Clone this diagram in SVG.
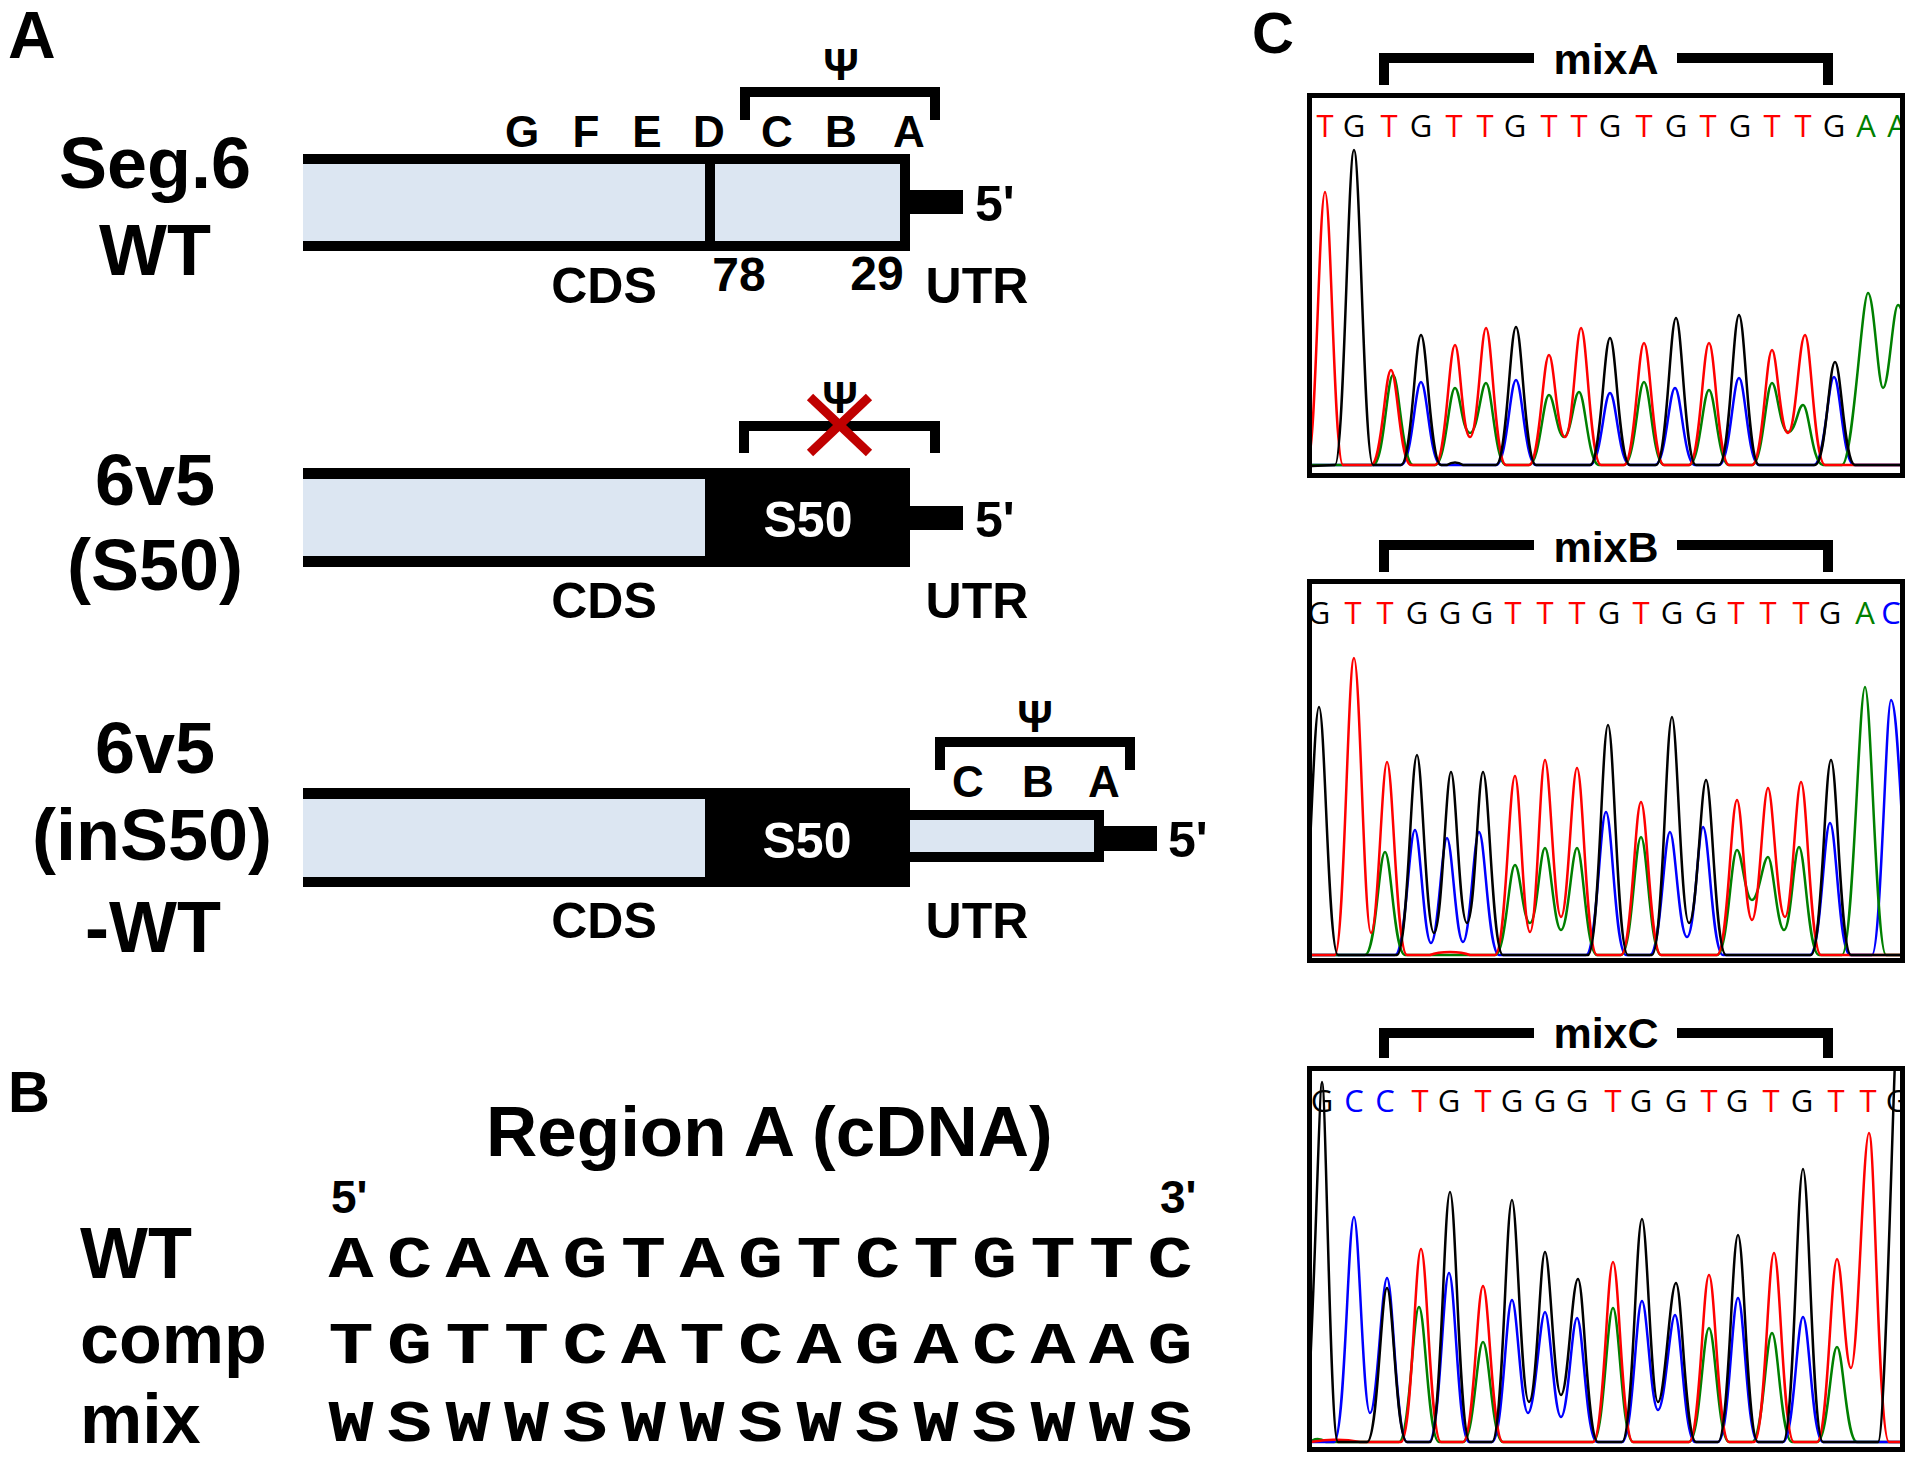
<svg xmlns="http://www.w3.org/2000/svg" width="1910" height="1459" viewBox="0 0 1910 1459">
<style>
.lab{font-family:"Liberation Sans",Arial,sans-serif;font-weight:bold;fill:#000}
.big{font-size:72px;text-anchor:middle}
.pan{font-size:66px}
.mid{font-size:50px;text-anchor:middle}
.sm{font-size:44px;text-anchor:middle}
.psi{font-size:44px;text-anchor:middle}
.wht{fill:#fff}
.seq{font-family:"Liberation Mono","Courier New",monospace;font-weight:bold;font-size:60px;text-anchor:middle;fill:#000}
.base{font-family:"Open Sans","DejaVu Sans",sans-serif;font-size:31px;text-anchor:middle}
.brk{fill:none;stroke:#000;stroke-width:10;stroke-linejoin:miter}
.fill{fill:#dce6f2}
.tr{fill:none;stroke-width:2.5;stroke-linejoin:round}
.r{stroke:#ff0000}.k{stroke:#000}.g{stroke:#008000}.b{stroke:#0000ff}
.tT{fill:#ff0000}.tG{fill:#000}.tA{fill:#008000}.tC{fill:#0000ff}
.box{fill:none;stroke:#000;stroke-width:5}
</style>
<defs>
<clipPath id="cA"><rect x="1312" y="98" width="588" height="375"/></clipPath>
<clipPath id="cB"><rect x="1312" y="584" width="588" height="374"/></clipPath>
<clipPath id="cC"><rect x="1312" y="1071" width="588" height="376"/></clipPath>
</defs>
<rect width="1910" height="1459" fill="#fff"/>

<!-- Panel labels -->
<text class="lab pan" x="8" y="58">A</text>
<text class="lab" style="font-size:58px" x="8" y="1112">B</text>
<text class="lab" style="font-size:58px" x="1252" y="53">C</text>

<!-- Construct 1: Seg.6 WT -->
<g id="seg6wt">
<text class="lab big" x="155" y="188">Seg.6</text>
<text class="lab big" x="155" y="275">WT</text>
<rect x="303" y="154" width="607" height="97" fill="#000"/>
<rect class="fill" x="303" y="164" width="402" height="77"/>
<rect class="fill" x="715" y="164" width="185" height="77"/>
<rect x="910" y="190" width="53" height="24" fill="#000"/>
<text class="lab" style="font-size:50px" x="975" y="221">5'</text>
<text class="lab sm" x="522" y="147">G</text>
<text class="lab sm" x="586" y="147">F</text>
<text class="lab sm" x="647" y="147">E</text>
<text class="lab sm" x="709" y="147">D</text>
<text class="lab sm" x="777" y="147">C</text>
<text class="lab sm" x="841" y="147">B</text>
<text class="lab sm" x="909" y="147">A</text>
<path class="brk" d="M745,120 V92 H935 V120"/>
<text class="lab psi" x="841" y="80">Ψ</text>
<text class="lab mid" x="604" y="303">CDS</text>
<text class="lab" style="font-size:48px;text-anchor:middle" x="739" y="291">78</text>
<text class="lab" style="font-size:48px;text-anchor:middle" x="877" y="290">29</text>
<text class="lab mid" x="977" y="303">UTR</text>
</g>

<!-- Construct 2: 6v5 (S50) -->
<g id="c6v5s50">
<text class="lab big" x="155" y="505">6v5</text>
<text class="lab big" x="155" y="590">(S50)</text>
<rect x="303" y="468" width="607" height="99" fill="#000"/>
<rect class="fill" x="303" y="479" width="402" height="77"/>
<text class="lab mid wht" x="808" y="537">S50</text>
<rect x="910" y="506" width="53" height="24" fill="#000"/>
<text class="lab" style="font-size:50px" x="975" y="537">5'</text>
<path class="brk" d="M744,453 V426 H935 V453"/>
<text class="lab psi" x="840" y="413">Ψ</text>
<g stroke="#c00000" stroke-width="9">
<line x1="810" y1="397" x2="869" y2="453"/>
<line x1="869" y1="397" x2="810" y2="453"/>
</g>
<text class="lab mid" x="604" y="618">CDS</text>
<text class="lab mid" x="977" y="618">UTR</text>
</g>

<!-- Construct 3: 6v5 (inS50)-WT -->
<g id="c6v5ins50wt">
<text class="lab big" x="155" y="773">6v5</text>
<text class="lab big" x="152" y="860">(inS50)</text>
<text class="lab big" x="153" y="952">-WT</text>
<rect x="303" y="788" width="607" height="99" fill="#000"/>
<rect class="fill" x="303" y="799" width="402" height="78"/>
<text class="lab mid wht" x="807" y="858">S50</text>
<rect x="910" y="810" width="194" height="52" fill="#000"/>
<rect class="fill" x="910" y="820" width="184" height="32"/>
<rect x="1104" y="826" width="53" height="25" fill="#000"/>
<text class="lab" style="font-size:50px" x="1168" y="857">5'</text>
<path class="brk" d="M940,770 V742 H1130 V770"/>
<text class="lab psi" x="1035" y="732">Ψ</text>
<text class="lab sm" x="968" y="797">C</text>
<text class="lab sm" x="1038" y="797">B</text>
<text class="lab sm" x="1104" y="797">A</text>
<text class="lab mid" x="604" y="938">CDS</text>
<text class="lab mid" x="977" y="938">UTR</text>
</g>

<!-- Panel B -->
<g id="regionA">
<text class="lab" style="font-size:71px" x="486" y="1156">Region A (cDNA)</text>
<text class="lab" style="font-size:46px" x="331" y="1213">5'</text>
<text class="lab" style="font-size:46px" x="1160" y="1213">3'</text>
<text class="lab" style="font-size:72px" x="80" y="1278">WT</text>
<text class="lab" style="font-size:70px" x="80" y="1363">comp</text>
<text class="lab" style="font-size:70px" x="80" y="1443">mix</text>
<text class="seq" transform="scale(1.25,1)" x="280.8 327.6 374.4 421.2 468 514.8 561.6 608.4 655.2 702 748.8 795.6 842.4 889.2 936" y="1277">ACAAGTAGTCTGTTC</text>
<text class="seq" transform="scale(1.25,1)" x="280.8 327.6 374.4 421.2 468 514.8 561.6 608.4 655.2 702 748.8 795.6 842.4 889.2 936" y="1363">TGTTCATCAGACAAG</text>
<text class="seq" transform="scale(1.25,1)" x="280.8 327.6 374.4 421.2 468 514.8 561.6 608.4 655.2 702 748.8 795.6 842.4 889.2 936" y="1441">WSWWSWWSWSWSWWS</text>
</g>

<!-- Panel C: mixA -->
<g id="mixA">
<path class="brk" d="M1384,85 V58 H1534 M1677,58 H1828 V85"/>
<text class="lab" style="font-size:43px;text-anchor:middle" x="1606" y="74">mixA</text>
<g clip-path="url(#cA)">
<g class="base">
<text class="tT" x="1325" y="137">T</text><text class="tG" x="1354" y="137">G</text><text class="tT" x="1389" y="137">T</text><text class="tG" x="1421" y="137">G</text><text class="tT" x="1454" y="137">T</text><text class="tT" x="1485" y="137">T</text><text class="tG" x="1515" y="137">G</text><text class="tT" x="1549" y="137">T</text><text class="tT" x="1579" y="137">T</text><text class="tG" x="1610" y="137">G</text><text class="tT" x="1644" y="137">T</text><text class="tG" x="1676" y="137">G</text><text class="tT" x="1708" y="137">T</text><text class="tG" x="1740" y="137">G</text><text class="tT" x="1772" y="137">T</text><text class="tT" x="1803" y="137">T</text><text class="tG" x="1834" y="137">G</text><text class="tA" x="1866" y="137">A</text><text class="tA" x="1897" y="137">A</text>
</g>
<path class="tr b" d="M1310,465 L1401,465 C1412,465 1415,382 1421,382 C1427,382 1430,465 1441,465 L1496,465 C1507,465 1510,380 1516,380 C1522,380 1525,465 1536,465 L1590,465 C1601,465 1604,393 1610,393 C1616,393 1619,465 1630,465 L1655,465 C1666,465 1669,388 1675,388 C1681,388 1684,465 1695,465 L1719,465 C1730,465 1733,378 1739,378 C1745,378 1748,465 1759,465 L1814,465 C1825,465 1828,377 1834,377 C1840,377 1843,465 1854,465 L1903,465"/>
<path class="tr g" d="M1310,465 L1373,465 C1384,465 1387,375 1393,375 C1399,375 1402,465 1413,465 L1435,465 C1446,465 1449,388 1455,388 C1460,388 1462,433 1470,433 C1478,433 1481,383 1486,383 C1492,383 1495,465 1506,465 L1529,465 C1540,465 1543,395 1549,395 C1554,395 1557,437 1564,437 C1571,437 1574,392 1579,392 C1585,392 1588,465 1599,465 L1624,465 C1635,465 1638,382 1644,382 C1650,382 1653,465 1664,465 L1689,465 C1700,465 1703,390 1709,390 C1715,390 1718,465 1729,465 L1752,465 C1763,465 1766,383 1772,383 C1777,383 1780,432 1788,432 C1796,432 1798,405 1803,405 C1809,405 1812,465 1823,465 L1842,465 C1853,465 1862,293 1868,293 C1874,293 1878,388 1883,388 C1889,388 1893,305 1898,305 C1901,305 1904,318 1907,330"/>
<path class="tr r" d="M1307,465 C1316,465 1319,192 1325,192 C1331,192 1334,465 1343,465 L1371,465 C1382,465 1385,370 1391,370 C1397,370 1400,465 1411,465 L1435,465 C1446,465 1449,345 1455,345 C1460,345 1462,437 1470,437 C1478,437 1481,328 1486,328 C1492,328 1495,465 1506,465 L1529,465 C1540,465 1543,355 1549,355 C1554,355 1557,437 1565,437 C1573,437 1576,328 1581,328 C1587,328 1590,465 1601,465 L1624,465 C1635,465 1638,343 1644,343 C1650,343 1653,465 1664,465 L1689,465 C1700,465 1703,343 1709,343 C1715,343 1718,465 1729,465 L1752,465 C1763,465 1766,350 1772,350 C1777,350 1780,433 1788,433 C1796,433 1799,335 1805,335 C1811,335 1814,465 1825,465 L1903,465"/>
<path class="tr k" d="M1310,466 L1335,465 C1344,465 1348,150 1354,150 C1360,150 1364,465 1373,465 L1401,465 C1412,465 1415,335 1421,335 C1427,335 1430,465 1441,465 L1447,465 C1452,462 1458,462 1463,465 L1496,465 C1507,465 1510,327 1516,327 C1522,327 1525,465 1536,465 L1590,465 C1601,465 1604,338 1610,338 C1616,338 1619,465 1630,465 L1656,465 C1667,465 1670,318 1676,318 C1682,318 1685,465 1696,465 L1719,465 C1730,465 1733,315 1739,315 C1745,315 1748,465 1759,465 L1815,465 C1826,465 1829,362 1835,362 C1841,362 1844,465 1855,465 L1903,465"/>
</g>
<rect class="box" x="1309.5" y="95.5" width="593" height="380"/>
</g>

<!-- Panel C: mixB -->
<g id="mixB">
<path class="brk" d="M1384,572 V545 H1534 M1677,545 H1828 V572"/>
<text class="lab" style="font-size:43px;text-anchor:middle" x="1606" y="562">mixB</text>
<g clip-path="url(#cB)">
<g class="base">
<text class="tG" x="1319" y="624">G</text><text class="tT" x="1353" y="624">T</text><text class="tT" x="1385" y="624">T</text><text class="tG" x="1417" y="624">G</text><text class="tG" x="1450" y="624">G</text><text class="tG" x="1482" y="624">G</text><text class="tT" x="1513" y="624">T</text><text class="tT" x="1545" y="624">T</text><text class="tT" x="1577" y="624">T</text><text class="tG" x="1609" y="624">G</text><text class="tT" x="1641" y="624">T</text><text class="tG" x="1672" y="624">G</text><text class="tG" x="1706" y="624">G</text><text class="tT" x="1736" y="624">T</text><text class="tT" x="1768" y="624">T</text><text class="tT" x="1801" y="624">T</text><text class="tG" x="1830" y="624">G</text><text class="tA" x="1865" y="624">A</text><text class="tC" x="1891" y="624">C</text>
</g>
<path class="tr b" d="M1310,955 L1395,955 C1406,955 1409,830 1415,830 C1420,830 1424,943 1431,943 C1438,943 1442,838 1447,838 C1452,838 1456,942 1463,942 C1470,942 1474,832 1479,832 C1485,832 1488,955 1499,955 L1586,955 C1597,955 1600,812 1606,812 C1612,812 1615,955 1626,955 L1650,955 C1661,955 1664,832 1670,832 C1675,832 1679,937 1687,937 C1695,937 1698,827 1703,827 C1709,827 1712,955 1723,955 L1810,955 C1821,955 1824,823 1830,823 C1836,823 1839,955 1850,955 L1872,955 C1881,955 1886,700 1891,700 C1897,700 1900,800 1906,880"/>
<path class="tr g" d="M1310,955 L1365,955 C1376,955 1379,852 1385,852 C1391,852 1394,955 1405,955 L1495,955 C1506,955 1509,865 1515,865 C1520,865 1523,923 1530,923 C1537,923 1540,848 1545,848 C1550,848 1554,930 1561,930 C1568,930 1572,848 1577,848 C1583,848 1586,955 1597,955 L1621,955 C1632,955 1635,837 1641,837 C1647,837 1650,955 1661,955 L1717,955 C1728,955 1731,850 1737,850 C1742,850 1745,900 1752,900 C1759,900 1763,857 1768,857 C1773,857 1777,930 1784,930 C1791,930 1794,847 1799,847 C1805,847 1808,955 1819,955 L1842,955 C1853,955 1859,687 1865,687 C1871,687 1876,955 1886,955 L1903,955"/>
<path class="tr r" d="M1310,955 L1335,955 C1344,955 1348,658 1354,658 C1360,658 1364,933 1371,933 C1378,933 1382,762 1387,762 C1393,762 1396,955 1407,955 L1430,955 C1440,951 1460,951 1470,955 L1495,955 C1506,955 1509,776 1515,776 C1520,776 1523,932 1530,932 C1537,932 1540,760 1545,760 C1550,760 1554,917 1561,917 C1568,917 1572,768 1577,768 C1583,768 1586,955 1597,955 L1621,955 C1632,955 1635,802 1641,802 C1647,802 1650,955 1661,955 L1717,955 C1728,955 1731,800 1737,800 C1742,800 1745,920 1752,920 C1759,920 1763,788 1768,788 C1773,788 1777,917 1785,917 C1792,917 1796,782 1801,782 C1807,782 1810,955 1821,955 L1903,955"/>
<path class="tr k" d="M1300,955 C1309,955 1313,707 1319,707 C1325,707 1328,955 1338,955 L1397,955 C1408,955 1411,755 1417,755 C1422,755 1426,933 1434,933 C1442,933 1446,772 1451,772 C1456,772 1459,923 1467,923 C1475,923 1478,772 1483,772 C1489,772 1492,955 1503,955 L1588,955 C1599,955 1602,725 1608,725 C1614,725 1617,955 1628,955 L1652,955 C1663,955 1666,717 1672,717 C1677,717 1681,923 1689,923 C1697,923 1701,780 1706,780 C1712,780 1715,955 1726,955 L1811,955 C1822,955 1825,760 1831,760 C1837,760 1840,955 1851,955 L1903,955"/>
</g>
<rect class="box" x="1309.5" y="581.5" width="593" height="379"/>
</g>

<!-- Panel C: mixC -->
<g id="mixC">
<path class="brk" d="M1384,1058 V1033 H1534 M1677,1033 H1828 V1058"/>
<text class="lab" style="font-size:43px;text-anchor:middle" x="1606" y="1048">mixC</text>
<g clip-path="url(#cC)">
<g class="base">
<text class="tG" x="1322" y="1112">G</text><text class="tC" x="1354" y="1112">C</text><text class="tC" x="1385" y="1112">C</text><text class="tT" x="1420" y="1112">T</text><text class="tG" x="1449" y="1112">G</text><text class="tT" x="1483" y="1112">T</text><text class="tG" x="1512" y="1112">G</text><text class="tG" x="1545" y="1112">G</text><text class="tG" x="1577" y="1112">G</text><text class="tT" x="1613" y="1112">T</text><text class="tG" x="1641" y="1112">G</text><text class="tG" x="1676" y="1112">G</text><text class="tT" x="1709" y="1112">T</text><text class="tG" x="1737" y="1112">G</text><text class="tT" x="1771" y="1112">T</text><text class="tG" x="1802" y="1112">G</text><text class="tT" x="1836" y="1112">T</text><text class="tT" x="1868" y="1112">T</text><text class="tG" x="1897" y="1112">G</text>
</g>
<path class="tr g" d="M1310,1442 C1315,1438 1320,1438 1326,1442 L1399,1442 C1410,1442 1413,1307 1419,1307 C1425,1307 1428,1442 1439,1442 L1463,1442 C1474,1442 1477,1342 1483,1342 C1489,1342 1492,1442 1503,1442 L1593,1442 C1604,1442 1607,1308 1613,1308 C1619,1308 1622,1442 1633,1442 L1689,1442 C1700,1442 1703,1328 1709,1328 C1715,1328 1718,1442 1729,1442 L1752,1442 C1763,1442 1766,1333 1772,1333 C1778,1333 1781,1442 1792,1442 L1817,1442 C1828,1442 1831,1347 1837,1347 C1843,1347 1846,1442 1857,1442 L1903,1442"/>
<path class="tr b" d="M1310,1442 L1334,1442 C1345,1442 1348,1217 1354,1217 C1359,1217 1363,1413 1370,1413 C1377,1413 1382,1278 1387,1278 C1393,1278 1396,1442 1407,1442 L1429,1442 C1440,1442 1443,1273 1449,1273 C1455,1273 1458,1442 1469,1442 L1492,1442 C1503,1442 1506,1300 1512,1300 C1517,1300 1521,1413 1528,1413 C1535,1413 1540,1312 1545,1312 C1550,1312 1554,1417 1561,1417 C1568,1417 1572,1318 1577,1318 C1583,1318 1586,1442 1597,1442 L1622,1442 C1633,1442 1636,1301 1642,1301 C1647,1301 1651,1410 1658,1410 C1665,1410 1670,1315 1675,1315 C1681,1315 1684,1442 1695,1442 L1718,1442 C1729,1442 1732,1298 1738,1298 C1744,1298 1747,1442 1758,1442 L1783,1442 C1794,1442 1797,1317 1803,1317 C1809,1317 1812,1442 1823,1442 L1903,1442"/>
<path class="tr r" d="M1310,1442 C1325,1440 1340,1438 1360,1442 L1401,1442 C1412,1442 1415,1249 1421,1249 C1427,1249 1430,1442 1441,1442 L1463,1442 C1474,1442 1477,1286 1483,1286 C1489,1286 1492,1442 1503,1442 L1593,1442 C1604,1442 1607,1262 1613,1262 C1619,1262 1622,1442 1633,1442 L1689,1442 C1700,1442 1703,1275 1709,1275 C1715,1275 1718,1442 1729,1442 L1754,1442 C1765,1442 1768,1253 1774,1253 C1780,1253 1783,1442 1794,1442 L1817,1442 C1828,1442 1831,1259 1837,1259 C1842,1259 1845,1368 1851,1368 C1858,1368 1863,1133 1869,1133 C1875,1133 1878,1442 1889,1442 L1903,1442"/>
<path class="tr k" d="M1305,1442 C1312,1400 1319,1082 1322,1082 C1326,1082 1330,1442 1338,1442 L1367,1442 C1378,1442 1381,1288 1387,1288 C1393,1288 1396,1442 1407,1442 L1430,1442 C1441,1442 1444,1192 1450,1192 C1456,1192 1459,1442 1470,1442 L1492,1442 C1503,1442 1506,1200 1512,1200 C1517,1200 1521,1402 1529,1402 C1537,1402 1540,1252 1545,1252 C1550,1252 1554,1395 1561,1395 C1568,1395 1572,1279 1578,1279 C1584,1279 1587,1442 1598,1442 L1622,1442 C1633,1442 1636,1219 1642,1219 C1647,1219 1651,1402 1658,1402 C1665,1402 1670,1283 1676,1283 C1682,1283 1685,1442 1696,1442 L1718,1442 C1729,1442 1732,1235 1738,1235 C1744,1235 1747,1442 1758,1442 L1783,1442 C1794,1442 1797,1169 1803,1169 C1809,1169 1812,1442 1823,1442 L1878,1442 C1884,1442 1890,1200 1895,1060"/>
</g>
<rect class="box" x="1309.5" y="1068.5" width="593" height="381"/>
</g>
</svg>
